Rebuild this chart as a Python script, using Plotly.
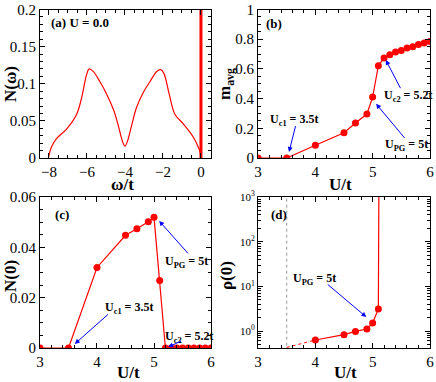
import plotly.graph_objects as go

# panel (a): N(omega) at U = 0
omega = [-8.03, -7.86, -7.6, -7.07, -6.54, -6.28, -6.02, -5.88, -5.67, -5.32, -4.96, -4.58,
         -4.35, -4.12, -4.0, -3.88, -3.65, -3.39, -3.04, -2.68, -2.33, -2.12, -1.95, -1.67,
         -1.37, -0.93, -0.4, -0.09, 0.0]
n_omega = [0.0, 0.015, 0.026, 0.039, 0.059, 0.081, 0.112, 0.120, 0.1166, 0.103, 0.086, 0.0636,
           0.0437, 0.0216, 0.0159, 0.0216, 0.0437, 0.068, 0.088, 0.103, 0.1166, 0.119, 0.114, 0.086,
           0.059, 0.046, 0.028, 0.0115, 0.004]
delta_x = [0.0, 0.0]
delta_y = [0.0, 0.25]

# panels (b), (c): vs U/t
u_vals = [3.0, 3.5, 4.0, 4.5, 4.7, 4.9, 5.0, 5.1, 5.2, 5.3, 5.4, 5.5, 5.6, 5.7, 5.8, 5.9, 6.0]
m_avg = [0.0, 0.0, 0.086, 0.17, 0.236, 0.296, 0.41, 0.622, 0.673, 0.695, 0.713, 0.724, 0.74,
         0.75, 0.764, 0.775, 0.784]
n_zero = [0.0, 0.0, 0.032, 0.0448, 0.0474, 0.0502, 0.052, 0.0268, 0.0, 0.0, 0.0, 0.0, 0.0,
          0.0, 0.0, 0.0, 0.0]

# panel (d): rho(0)
u_rho = [4.0, 4.5, 4.7, 4.9, 5.0, 5.1]
rho = [0.63, 0.83, 0.98, 1.11, 1.51, 3.1]
u_rho_dot = [3.5, 4.0]
rho_dot = [0.43, 0.63]
u_rho_up = [5.1, 5.11]
rho_up = [3.1, 3000.0]

RED = '#ff0000'
BLUE = '#0000ff'
SERIF = 'Liberation Serif'

fig = go.Figure()

fig.add_trace(go.Scatter(x=omega, y=n_omega, mode='lines', line=dict(color=RED, width=1.2),
                         xaxis='x', yaxis='y', line_shape='spline'))
fig.add_trace(go.Scatter(x=delta_x, y=delta_y, mode='lines', line=dict(color=RED, width=3),
                         xaxis='x', yaxis='y'))
fig.add_trace(go.Scatter(x=u_vals, y=m_avg, mode='lines+markers', line=dict(color=RED, width=1.2),
                         marker=dict(color=RED, size=7), xaxis='x2', yaxis='y2'))
fig.add_trace(go.Scatter(x=u_vals, y=n_zero, mode='lines+markers', line=dict(color=RED, width=1.2),
                         marker=dict(color=RED, size=7), xaxis='x3', yaxis='y3'))
fig.add_trace(go.Scatter(x=[3.5, 3.5], y=[0.1, 1e4], mode='lines',
                         line=dict(color='#999999', width=1, dash='dot'), xaxis='x4', yaxis='y4'))
fig.add_trace(go.Scatter(x=u_rho_dot, y=rho_dot, mode='lines',
                         line=dict(color=RED, width=1, dash='dot'), xaxis='x4', yaxis='y4'))
fig.add_trace(go.Scatter(x=u_rho_up, y=rho_up, mode='lines', line=dict(color=RED, width=1.2),
                         xaxis='x4', yaxis='y4'))
fig.add_trace(go.Scatter(x=u_rho, y=rho, mode='lines+markers', line=dict(color=RED, width=1.2),
                         marker=dict(color=RED, size=7), xaxis='x4', yaxis='y4'))


def ax(domain, rng, dtick, minor, anchor, **kw):
    d = dict(domain=domain, range=rng, dtick=dtick, anchor=anchor, automargin=False,
             ticklabeloverflow='allow',
             showline=True, linecolor='black', linewidth=1, mirror='ticks',
             ticks='inside', ticklen=5, tickcolor='black', showgrid=False, zeroline=False,
             tickfont=dict(family=SERIF, size=15, color='black'),
             minor=dict(ticks='inside', ticklen=3, tickcolor='black', dtick=minor, showgrid=False))
    d.update(kw)
    return d


xa = [0.0917, 0.484]
xb = [0.592, 0.986]
ytop = [0.5864, 0.9751]
ybot = [0.089, 0.4843]

log_minor = [v * m for m in (0.1, 1, 10, 100) for v in range(2, 10)]

fig.update_layout(
    width=436, height=382, autosize=False,
    margin=dict(l=0, r=0, t=0, b=0, pad=0, autoexpand=False),
    paper_bgcolor='white', plot_bgcolor='white',
    showlegend=False,
    xaxis=ax(xa, [-8.47, 0.53], 2, 0.5, 'y'),
    yaxis=ax(ytop, [0, 0.2], 0.05, 0.01, 'x', tickformat='~g'),
    xaxis2=ax(xb, [3, 6], 1, 0.2, 'y2'),
    yaxis2=ax(ytop, [0, 1], 0.2, 0.05, 'x2', tickformat='~g'),
    xaxis3=ax(xa, [3, 6], 1, 0.2, 'y3'),
    yaxis3=ax(ybot, [0, 0.06], 0.02, 0.005, 'x3', tickformat='~g'),
    xaxis4=ax(xb, [3, 6], 1, 0.2, 'y4'),
    yaxis4=ax(ybot, [-0.38, 3], None, None, 'x4', type='log',
              tickvals=[1, 10, 100, 1000],
              ticktext=['10<sup>0</sup>', '10<sup>1</sup>', '10<sup>2</sup>', '10<sup>3</sup>'],
              tickfont=dict(family=SERIF, size=11, color='black')),
)
fig.layout.yaxis4.minor = dict(ticks='inside', ticklen=3, tickcolor='black', tickvals=log_minor,
                               showgrid=False)

title_font = dict(family=SERIF, size=17, color='black')
lab_font = dict(family=SERIF, size=13, color='black')
ann_font = dict(family=SERIF, size=12, color='black')

# axis titles (page pixel positions)
for x, y, text, angle in [
    (123, 185, '<b>ω/t</b>', 0), (340, 185, '<b>U/t</b>', 0),
    (128, 372, '<b>U/t</b>', 0), (345, 372, '<b>U/t</b>', 0),
    (10, 84, '<b>N(ω)</b>', -90), (226, 84, '<b>m<sub>avg</sub></b>', -90),
    (10, 276, '<b>N(0)</b>', -90), (226, 276, '<b>ρ(0)</b>', -90),
]:
    fig.add_annotation(x=x / 436, y=1 - y / 382, xref='paper', yref='paper', text=text,
                       xanchor='center', yanchor='middle',
                       textangle=angle, showarrow=False, font=title_font)

# panel labels
for x, y, text in [(80, 23, '<b>(a) U = 0.0</b>'), (274, 24, '<b>(b)</b>'),
                   (62, 215, '<b>(c)</b>'), (279, 215, '<b>(d)</b>')]:
    fig.add_annotation(x=x / 436, y=1 - y / 382, xref='paper', yref='paper', text=text,
                       xanchor='center', yanchor='middle',
                       showarrow=False, font=lab_font)

# labels with blue arrows: (axis, text x, text y, text, tail x, tail y, head x, head y)
arrows = [
    ('2', 3.62, 0.258, '<b>U<sub>c1</sub> = 3.5t</b>', 3.66, 0.225, 3.54, 0.04),
    ('2', 5.62, 0.415, '<b>U<sub>c2</sub> = 5.2t</b>', 5.5, 0.46, 5.23, 0.66),
    ('2', 5.6, 0.085, '<b>U<sub>PG</sub> = 5t</b>', 5.58, 0.125, 5.06, 0.365),
    ('3', 5.57, 0.0343, '<b>U<sub>PG</sub> = 5t</b>', 5.62, 0.037, 5.09, 0.0505),
    ('3', 4.57, 0.0158, '<b>U<sub>c1</sub> = 3.5t</b>', 4.22, 0.0139, 3.61, 0.0016),
    ('3', 5.62, 0.0044, '<b>U<sub>c2</sub> = 5.2t</b>', 5.5, 0.003, 5.25, 0.0004),
    ('4', 3.99, 1.17, '<b>U<sub>PG</sub> = 5t</b>', 4.19, 1.07, 4.89, 0.313),
]
for n, tx, ty, text, x0, y0, x1, y1 in arrows:
    fig.add_annotation(x=tx, y=ty, xref='x' + n, yref='y' + n, text=text,
                       xanchor='center', yanchor='middle',
                       showarrow=False, font=ann_font)
    fig.add_annotation(x=x1, y=y1, ax=x0, ay=y0, xref='x' + n, yref='y' + n,
                       axref='x' + n, ayref='y' + n, text='', showarrow=True,
                       arrowhead=2, arrowsize=1, arrowwidth=1, arrowcolor=BLUE)

fig.write_html("out.html", config={'displayModeBar': False},
               post_script="document.body.style.margin='0';")
